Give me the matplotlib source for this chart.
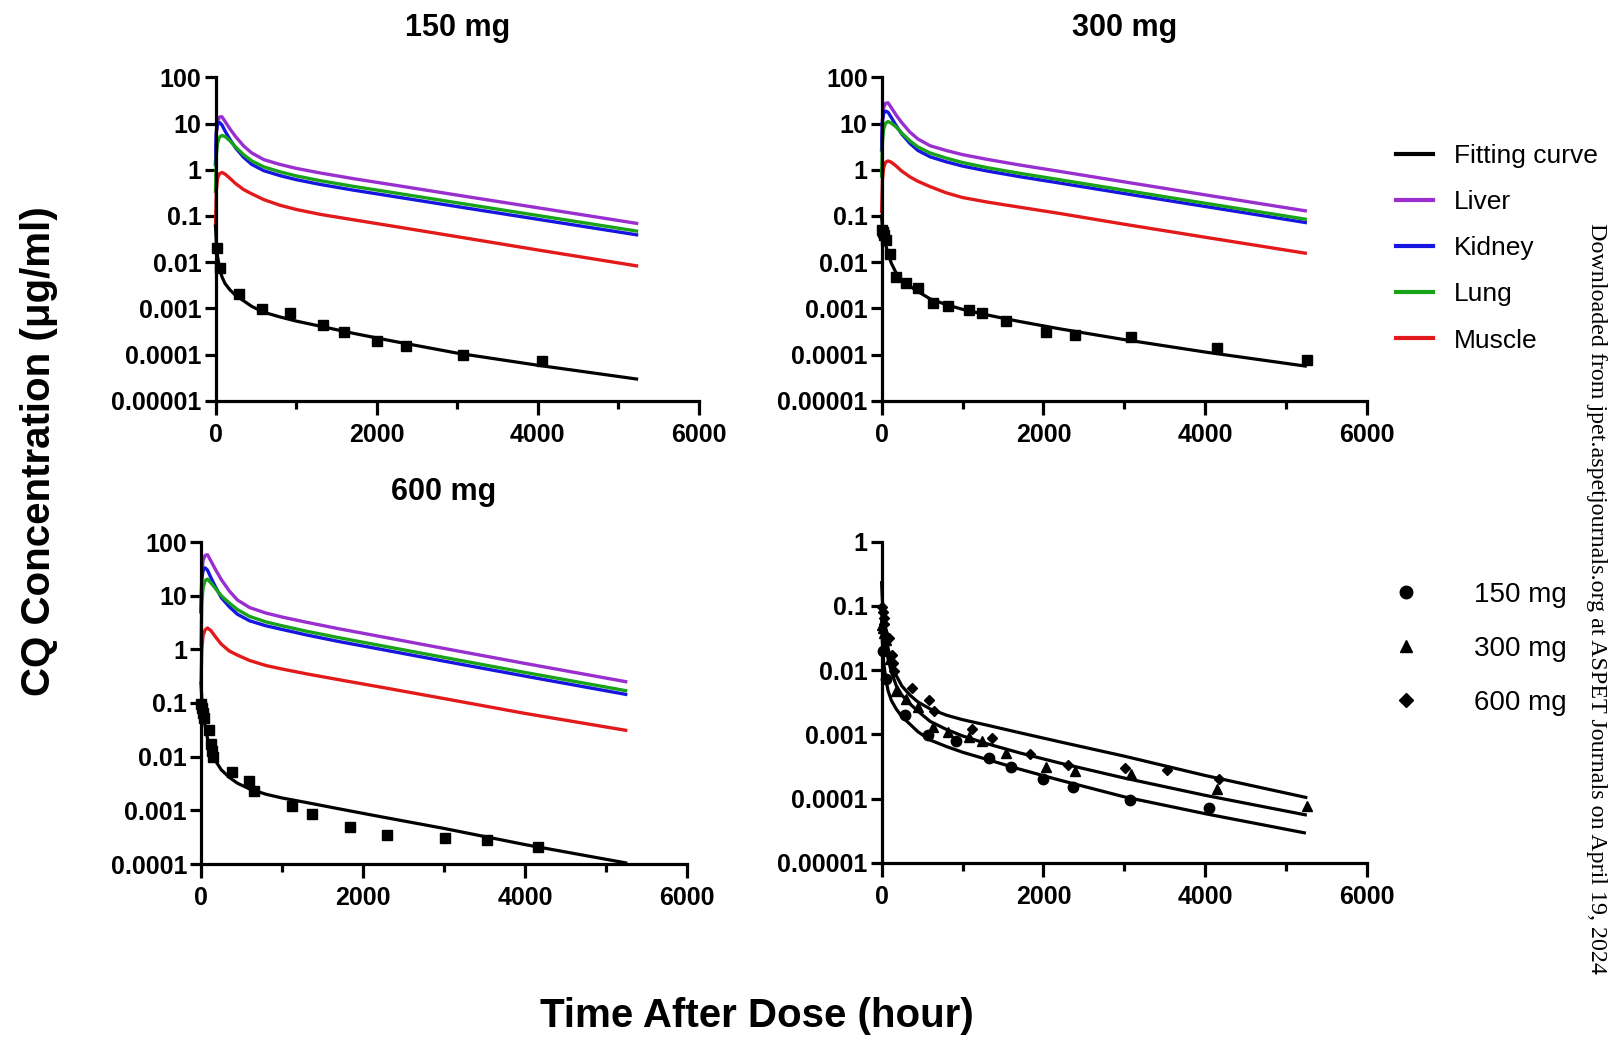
import matplotlib
matplotlib.use("Agg")
import matplotlib.pyplot as plt
from matplotlib.lines import Line2D

plt.rcParams['font.family'] = ['Liberation Sans', 'DejaVu Sans']

# simulated curves, hours vs ug/ml
t_150 = [0, 10, 25, 50, 80, 120, 180, 250, 350, 450, 600, 800, 1000, 1300, 1700, 2200, 3000, 4000, 5225]
liver_150 = [1.3, 6, 11, 13.8, 14, 11, 7.6, 5.2, 3.25, 2.3, 1.65, 1.3, 1.07, 0.85, 0.645, 0.47, 0.282, 0.15, 0.069]
kidney_150 = [1.3, 6.5, 9.5, 10.5, 9.3, 6.8, 4.5, 2.95, 1.85, 1.3, 0.95, 0.745, 0.61, 0.48, 0.364, 0.265, 0.159, 0.0845, 0.039]
lung_150 = [0.34, 2, 3.8, 5.1, 5.5, 5.2, 4.2, 3.1, 2.1, 1.55, 1.15, 0.9, 0.735, 0.578, 0.439, 0.32, 0.192, 0.102, 0.047]
muscle_150 = [0.064, 0.35, 0.65, 0.82, 0.87, 0.8, 0.65, 0.5, 0.37, 0.3, 0.225, 0.17, 0.138, 0.108, 0.083, 0.06, 0.0355, 0.0183, 0.0083]
fit_150 = [0.06, 0.027, 0.0135, 0.0075, 0.0048, 0.0034, 0.0025, 0.0019, 0.00145, 0.0011, 0.00082, 0.00065, 0.00053,
           0.00041, 0.00029, 0.000195, 0.000107, 0.0000585, 0.0000295]

t_300 = [0, 10, 25, 50, 80, 120, 180, 250, 350, 450, 600, 800, 1000, 1300, 1700, 2200, 3000, 4000, 5237]
liver_300 = [2.7, 12, 22, 27.5, 28, 22, 15.2, 10.4, 6.5, 4.6, 3.3, 2.6, 2.12, 1.68, 1.27, 0.92, 0.545, 0.285, 0.129]
kidney_300 = [2.7, 11, 16.5, 18.5, 17.5, 13.5, 9, 5.9, 3.7, 2.6, 1.9, 1.48, 1.2, 0.94, 0.71, 0.515, 0.305, 0.16, 0.072]
lung_300 = [0.72, 4, 7.5, 10.2, 11, 10.2, 8.4, 6.2, 4.2, 3.1, 2.3, 1.78, 1.43, 1.11, 0.84, 0.607, 0.36, 0.188, 0.085]
muscle_300 = [0.125, 0.6, 1.1, 1.45, 1.55, 1.45, 1.2, 0.93, 0.7, 0.56, 0.43, 0.315, 0.25, 0.2, 0.155, 0.113, 0.066, 0.0345, 0.0156]
fit_300 = [0.1, 0.055, 0.036, 0.024, 0.015, 0.0095, 0.0058, 0.0041, 0.003, 0.0023, 0.0016, 0.0012, 0.00095,
           0.00072, 0.00052, 0.00036, 0.00021, 0.000113, 0.0000562]

t_600 = [0, 10, 25, 50, 80, 120, 180, 250, 350, 450, 600, 800, 1000, 1300, 1700, 2200, 3000, 4000, 5243]
liver_600 = [5, 25, 45, 56, 58, 45, 30.5, 20, 12.2, 8.3, 6.0, 4.75, 4.0, 3.2, 2.42, 1.75, 1.04, 0.546, 0.25]
kidney_600 = [5, 20, 29, 33, 30, 22, 14.5, 9.2, 6.2, 4.5, 3.4, 2.75, 2.35, 1.86, 1.4, 1.015, 0.603, 0.317, 0.145]
lung_600 = [1.2, 7, 14, 19, 20.3, 17.5, 13.5, 10, 7.3, 5.5, 4.1, 3.25, 2.75, 2.18, 1.65, 1.19, 0.707, 0.371, 0.17]
muscle_600 = [0.25, 1.0, 1.8, 2.3, 2.5, 2.25, 1.7, 1.25, 0.93, 0.78, 0.62, 0.5, 0.43, 0.35, 0.272, 0.2, 0.121, 0.064, 0.031]
fit_600 = [0.23, 0.12, 0.07, 0.038, 0.022, 0.0135, 0.0083, 0.0057, 0.0041, 0.0032, 0.0025, 0.002, 0.0017,
           0.0014, 0.00107, 0.00077, 0.00046, 0.00023, 0.000105]

# observed plasma concentrations
obs_t_150 = [20, 60, 290, 575, 920, 1330, 1600, 2000, 2370, 3070, 4050]
obs_c_150 = [0.020, 0.0073, 0.002, 0.00097, 0.0008, 0.00043, 0.00031, 0.0002, 0.000155, 0.0000965, 0.0000725]
obs_t_300 = [5, 20, 35, 55, 100, 175, 305, 450, 640, 815, 1075, 1245, 1535, 2030, 2394, 3081, 4152, 5253]
obs_c_300 = [0.05, 0.045, 0.038, 0.03, 0.015, 0.0048, 0.0036, 0.0027, 0.0013, 0.0011, 0.00093, 0.0008, 0.00052,
             0.00031, 0.00027, 0.00024, 0.000141, 0.0000776]
obs_t_600 = [2, 15, 25, 35, 95, 125, 135, 150, 380, 590, 650, 1120, 1365, 1840, 2300, 3010, 3525, 4165]
obs_c_600 = [0.095, 0.08, 0.065, 0.052, 0.032, 0.017, 0.0128, 0.0099, 0.0052, 0.0035, 0.0023, 0.0012, 0.00087,
             0.00049, 0.00034, 0.0003, 0.00028, 0.000205]

tissues = ['Liver', 'Kidney', 'Lung', 'Muscle']
tissue_colors = ['#9a2fd0', '#1616e0', '#18a318', '#e31a1c']
ylabels_full = ['100', '10', '1', '0.1', '0.01', '0.001', '0.0001', '0.00001']
yticks_full = [100, 10, 1, 0.1, 0.01, 0.001, 0.0001, 0.00001]

W, H = 1610, 1040
fig = plt.figure(figsize=(W / 100, H / 100), dpi=100)


def box(x0, x1, ytop, ybot):
    return [x0 / W, 1 - ybot / H, (x1 - x0) / W, (ybot - ytop) / H]


def style(ax, yticks, ylabels):
    ax.set_yscale('log')
    ax.set_xlim(0, 6000)
    ax.set_ylim(min(yticks), max(yticks))
    ax.set_yticks(yticks)
    ax.set_yticklabels(ylabels)
    ax.minorticks_off()
    ax.set_xticks([0, 2000, 4000, 6000])
    ax.set_xticklabels(['0', '2000', '4000', '6000'])
    ax.set_xticks([1000, 3000, 5000], minor=True)
    for s in ['top', 'right']:
        ax.spines[s].set_visible(False)
    for s in ['left', 'bottom']:
        ax.spines[s].set_linewidth(2.3)
    ax.tick_params(axis='y', which='major', length=8, width=2.3, labelsize=18, pad=2)
    ax.tick_params(axis='x', which='major', length=10, width=2.3, labelsize=18, pad=6)
    ax.tick_params(axis='x', which='minor', length=6, width=2.3)
    for lab in ax.get_xticklabels() + ax.get_yticklabels():
        lab.set_fontweight('bold')


panels = [
    (box(215.5, 699, 77.3, 400.7), '150 mg', t_150, [liver_150, kidney_150, lung_150, muscle_150], fit_150, obs_t_150, obs_c_150),
    (box(881.6, 1367, 77.3, 400.7), '300 mg', t_300, [liver_300, kidney_300, lung_300, muscle_300], fit_300, obs_t_300, obs_c_300),
    (box(201, 687, 542, 864), '600 mg', t_600, [liver_600, kidney_600, lung_600, muscle_600], fit_600, obs_t_600, obs_c_600),
]

for rect, title, t, organs, fit, ot, oc in panels:
    ax = fig.add_axes(rect)
    for vals, col in zip(organs, tissue_colors):
        ax.plot(t, vals, color=col, lw=2.4, solid_joinstyle='round', clip_on=False)
    ax.plot(t, fit, color='black', lw=2.3, solid_joinstyle='round', clip_on=False)
    ax.plot(ot, oc, 's', color='black', ms=7, clip_on=False, zorder=5)
    if title == '600 mg':
        style(ax, yticks_full[:-1], ylabels_full[:-1])
    else:
        style(ax, yticks_full, ylabels_full)
    ax.set_title(title, fontsize=22, fontweight='bold', pad=30)

# combined panel
ax4 = fig.add_axes(box(881.6, 1367, 541.7, 863))
for t, fit in [(t_150, fit_150), (t_300, fit_300), (t_600, fit_600)]:
    ax4.plot(t, fit, color='black', lw=2.3, solid_joinstyle='round', clip_on=False)
ax4.plot(obs_t_150, obs_c_150, 'o', color='black', ms=7.5, clip_on=False, zorder=5)
ax4.plot(obs_t_300, obs_c_300, '^', color='black', ms=7.5, clip_on=False, zorder=5)
ax4.plot(obs_t_600, obs_c_600, 'D', color='black', ms=5.5, clip_on=False, zorder=5)
style(ax4, yticks_full[2:], ylabels_full[2:])

# legends
h1 = [Line2D([], [], color='black', lw=3)] + [Line2D([], [], color=c, lw=3) for c in tissue_colors]
fig.legend(h1, ['Fitting curve'] + tissues, loc='upper left', bbox_to_anchor=(1396 / W, 1 - 144 / H),
           frameon=False, fontsize=19, handlelength=1.4, handletextpad=0.8, labelspacing=0.84,
           borderaxespad=0, borderpad=0)

h2 = [Line2D([], [], ls='none', marker='o', color='black', ms=9),
      Line2D([], [], ls='none', marker='^', color='black', ms=9),
      Line2D([], [], ls='none', marker='D', color='black', ms=7)]
fig.legend(h2, ['150 mg', '300 mg', '600 mg'], loc='upper left', bbox_to_anchor=(1392 / W, 1 - 582 / H),
           frameon=False, fontsize=20, handlelength=1.0, handletextpad=1.96, labelspacing=1.01,
           borderaxespad=0, borderpad=0)

fig.text(39 / W, 1 - 451 / H, 'CQ Concentration (μg/ml)', rotation=90, ha='center', va='center',
         fontsize=29, fontweight='bold')
fig.text(757 / W, 1 - 1016 / H, 'Time After Dose (hour)', ha='center', va='center',
         fontsize=29, fontweight='bold')
fig.text(1596 / W, 1 - 598 / H, 'Downloaded from jpet.aspetjournals.org at ASPET Journals on April 19, 2024',
         rotation=270, ha='center', va='center', fontsize=17.3, family=['Liberation Serif', 'DejaVu Serif'])

fig.savefig('out.png', dpi=100)
plt.close(fig)
